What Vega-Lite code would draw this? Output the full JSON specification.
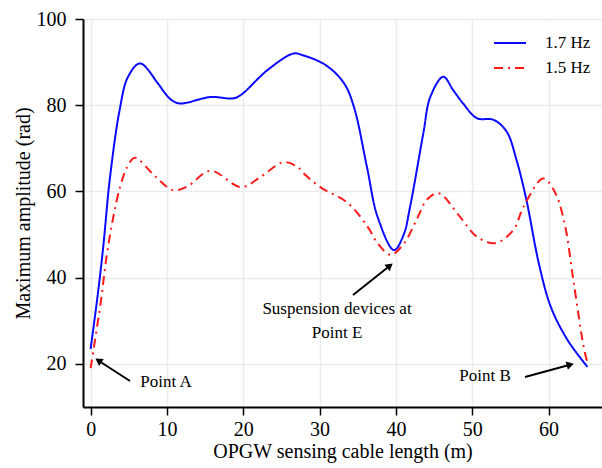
{
  "$schema": "https://vega.github.io/schema/vega-lite/v6.json",
  "width": 519,
  "height": 388,
  "autosize": {"type": "none"},
  "padding": {"left": 83, "top": 19, "right": 0, "bottom": 61},
  "background": "white",
  "config": {
    "font": "Liberation Serif",
    "view": {"stroke": null},
    "axis": {
      "domainColor": "black",
      "domainWidth": 2,
      "tickColor": "black",
      "tickWidth": 1.5,
      "tickSize": 8,
      "gridColor": "#ebebeb",
      "gridWidth": 1.5,
      "labelFont": "Liberation Serif",
      "labelFontSize": 20,
      "labelColor": "black",
      "titleFont": "Liberation Serif",
      "titleFontSize": 20,
      "titleFontWeight": "normal",
      "titleColor": "black"
    },
    "legend": {
      "labelFont": "Liberation Serif",
      "labelFontSize": 17,
      "labelColor": "black"
    }
  },
  "datasets": {
    "curves": [
      {"length": 0.0, "amp": 23.5, "series": "1.7 Hz"},
      {"length": 1.0, "amp": 37.0, "series": "1.7 Hz"},
      {"length": 1.7, "amp": 48.0, "series": "1.7 Hz"},
      {"length": 2.5, "amp": 62.7, "series": "1.7 Hz"},
      {"length": 3.8, "amp": 78.9, "series": "1.7 Hz"},
      {"length": 4.9, "amp": 86.6, "series": "1.7 Hz"},
      {"length": 6.47, "amp": 89.7, "series": "1.7 Hz"},
      {"length": 8.8, "amp": 85.1, "series": "1.7 Hz"},
      {"length": 9.7, "amp": 82.9, "series": "1.7 Hz"},
      {"length": 10.6, "amp": 81.2, "series": "1.7 Hz"},
      {"length": 11.7, "amp": 80.4, "series": "1.7 Hz"},
      {"length": 15.7, "amp": 81.9, "series": "1.7 Hz"},
      {"length": 18.7, "amp": 81.6, "series": "1.7 Hz"},
      {"length": 19.7, "amp": 82.4, "series": "1.7 Hz"},
      {"length": 23.2, "amp": 88.2, "series": "1.7 Hz"},
      {"length": 26.6, "amp": 92.0, "series": "1.7 Hz"},
      {"length": 27.8, "amp": 91.6, "series": "1.7 Hz"},
      {"length": 30.8, "amp": 89.3, "series": "1.7 Hz"},
      {"length": 33.2, "amp": 85.1, "series": "1.7 Hz"},
      {"length": 34.5, "amp": 79.6, "series": "1.7 Hz"},
      {"length": 36.2, "amp": 65.7, "series": "1.7 Hz"},
      {"length": 37.6, "amp": 54.1, "series": "1.7 Hz"},
      {"length": 39.75, "amp": 46.4, "series": "1.7 Hz"},
      {"length": 41.0, "amp": 49.9, "series": "1.7 Hz"},
      {"length": 41.85, "amp": 56.4, "series": "1.7 Hz"},
      {"length": 43.6, "amp": 73.6, "series": "1.7 Hz"},
      {"length": 44.5, "amp": 81.9, "series": "1.7 Hz"},
      {"length": 46.2, "amp": 86.6, "series": "1.7 Hz"},
      {"length": 47.5, "amp": 83.5, "series": "1.7 Hz"},
      {"length": 48.8, "amp": 80.4, "series": "1.7 Hz"},
      {"length": 50.6, "amp": 77.0, "series": "1.7 Hz"},
      {"length": 52.8, "amp": 76.6, "series": "1.7 Hz"},
      {"length": 54.5, "amp": 73.9, "series": "1.7 Hz"},
      {"length": 55.8, "amp": 67.3, "series": "1.7 Hz"},
      {"length": 57.1, "amp": 58.0, "series": "1.7 Hz"},
      {"length": 58.7, "amp": 43.5, "series": "1.7 Hz"},
      {"length": 60.3, "amp": 33.2, "series": "1.7 Hz"},
      {"length": 62.5, "amp": 25.5, "series": "1.7 Hz"},
      {"length": 65.1, "amp": 19.3, "series": "1.7 Hz"},
      {"length": 0.0, "amp": 19.0, "series": "1.5 Hz"},
      {"length": 1.3, "amp": 34.0, "series": "1.5 Hz"},
      {"length": 2.1, "amp": 45.0, "series": "1.5 Hz"},
      {"length": 2.9, "amp": 53.4, "series": "1.5 Hz"},
      {"length": 3.85, "amp": 61.0, "series": "1.5 Hz"},
      {"length": 4.8, "amp": 65.7, "series": "1.5 Hz"},
      {"length": 5.8, "amp": 67.8, "series": "1.5 Hz"},
      {"length": 8.4, "amp": 63.6, "series": "1.5 Hz"},
      {"length": 10.8, "amp": 60.3, "series": "1.5 Hz"},
      {"length": 12.7, "amp": 61.2, "series": "1.5 Hz"},
      {"length": 15.7, "amp": 64.8, "series": "1.5 Hz"},
      {"length": 19.7, "amp": 61.0, "series": "1.5 Hz"},
      {"length": 22.3, "amp": 63.4, "series": "1.5 Hz"},
      {"length": 25.3, "amp": 66.8, "series": "1.5 Hz"},
      {"length": 27.1, "amp": 65.7, "series": "1.5 Hz"},
      {"length": 27.9, "amp": 64.2, "series": "1.5 Hz"},
      {"length": 30.1, "amp": 61.0, "series": "1.5 Hz"},
      {"length": 33.7, "amp": 57.3, "series": "1.5 Hz"},
      {"length": 36.3, "amp": 51.8, "series": "1.5 Hz"},
      {"length": 37.6, "amp": 48.0, "series": "1.5 Hz"},
      {"length": 39.3, "amp": 45.3, "series": "1.5 Hz"},
      {"length": 41.0, "amp": 47.8, "series": "1.5 Hz"},
      {"length": 42.7, "amp": 53.4, "series": "1.5 Hz"},
      {"length": 44.1, "amp": 58.2, "series": "1.5 Hz"},
      {"length": 45.6, "amp": 59.6, "series": "1.5 Hz"},
      {"length": 48.4, "amp": 54.1, "series": "1.5 Hz"},
      {"length": 50.6, "amp": 49.5, "series": "1.5 Hz"},
      {"length": 53.0, "amp": 48.0, "series": "1.5 Hz"},
      {"length": 55.4, "amp": 51.1, "series": "1.5 Hz"},
      {"length": 56.7, "amp": 56.4, "series": "1.5 Hz"},
      {"length": 59.3, "amp": 63.0, "series": "1.5 Hz"},
      {"length": 60.7, "amp": 60.3, "series": "1.5 Hz"},
      {"length": 62.0, "amp": 53.4, "series": "1.5 Hz"},
      {"length": 63.3, "amp": 38.8, "series": "1.5 Hz"},
      {"length": 64.6, "amp": 23.9, "series": "1.5 Hz"},
      {"length": 65.1, "amp": 20.2, "series": "1.5 Hz"}
    ],
    "arrows": [
      {"x": 5.16, "y": 16.03, "x2": 1.15, "y2": 20.62, "angle": 303},
      {"x": 34.38, "y": 35.98, "x2": 39.08, "y2": 42.59, "angle": 51.5},
      {"x": 56.91, "y": 16.96, "x2": 62.69, "y2": 19.74, "angle": 74.8}
    ],
    "notes": [
      {"x": 9.88, "y": 14.64, "label": "Point A"},
      {"x": 51.67, "y": 16.03, "label": "Point B"},
      {"x": 32.28, "y": 31.57, "label": "Suspension devices at"},
      {"x": 32.28, "y": 26.0, "label": "Point E"}
    ]
  },
  "layer": [
    {
      "data": {"name": "curves"},
      "mark": {"type": "line", "interpolate": "catmull-rom", "strokeWidth": 2, "clip": true},
      "encoding": {
        "x": {
          "field": "length",
          "type": "quantitative",
          "scale": {"domain": [-1, 67], "nice": false, "zero": false},
          "axis": {"title": "OPGW sensing cable length (m)", "values": [0, 10, 20, 30, 40, 50, 60], "labelPadding": 4, "titlePadding": 2}
        },
        "y": {
          "field": "amp",
          "type": "quantitative",
          "scale": {"domain": [10, 100], "nice": false, "zero": false},
          "axis": {"title": "Maximum amplitude (rad)", "values": [20, 40, 60, 80, 100], "labelPadding": 9, "titlePadding": 3}
        },
        "color": {
          "field": "series",
          "type": "nominal",
          "scale": {"domain": ["1.7 Hz", "1.5 Hz"], "range": ["#0a0aff", "#ff1a1a"]},
          "legend": {
            "title": null,
            "orient": "none",
            "legendX": 406,
            "legendY": 3,
            "padding": 4,
            "fillColor": "white",
            "symbolType": "stroke",
            "symbolSize": 1024,
            "symbolStrokeWidth": 2,
            "labelOffset": 18,
            "rowPadding": 0
          }
        },
        "strokeDash": {
          "field": "series",
          "type": "nominal",
          "scale": {"domain": ["1.7 Hz", "1.5 Hz"], "range": [[1, 0], [9, 5, 2, 5]]},
          "legend": {
            "title": null,
            "orient": "none",
            "legendX": 406,
            "legendY": 3,
            "padding": 4,
            "fillColor": "white",
            "symbolType": "stroke",
            "symbolSize": 1024,
            "symbolStrokeWidth": 2,
            "labelOffset": 18,
            "rowPadding": 0
          }
        }
      }
    },
    {
      "mark": {"type": "rule", "color": "black", "strokeWidth": 2},
      "encoding": {"y": {"datum": 100}}
    },
    {
      "data": {"name": "arrows"},
      "mark": {"type": "rule", "color": "black", "strokeWidth": 2},
      "encoding": {
        "x": {"field": "x", "type": "quantitative"},
        "y": {"field": "y", "type": "quantitative"},
        "x2": {"field": "x2"},
        "y2": {"field": "y2"}
      }
    },
    {
      "data": {"name": "arrows"},
      "mark": {"type": "point", "shape": "triangle", "filled": true, "color": "black", "size": 70, "opacity": 1},
      "encoding": {
        "x": {"field": "x2", "type": "quantitative"},
        "y": {"field": "y2", "type": "quantitative"},
        "angle": {"field": "angle", "type": "quantitative", "scale": null}
      }
    },
    {
      "data": {"name": "notes"},
      "mark": {"type": "text", "font": "Liberation Serif", "fontSize": 17, "color": "black", "align": "center", "baseline": "alphabetic"},
      "encoding": {
        "x": {"field": "x", "type": "quantitative"},
        "y": {"field": "y", "type": "quantitative"},
        "text": {"field": "label"}
      }
    }
  ]
}
